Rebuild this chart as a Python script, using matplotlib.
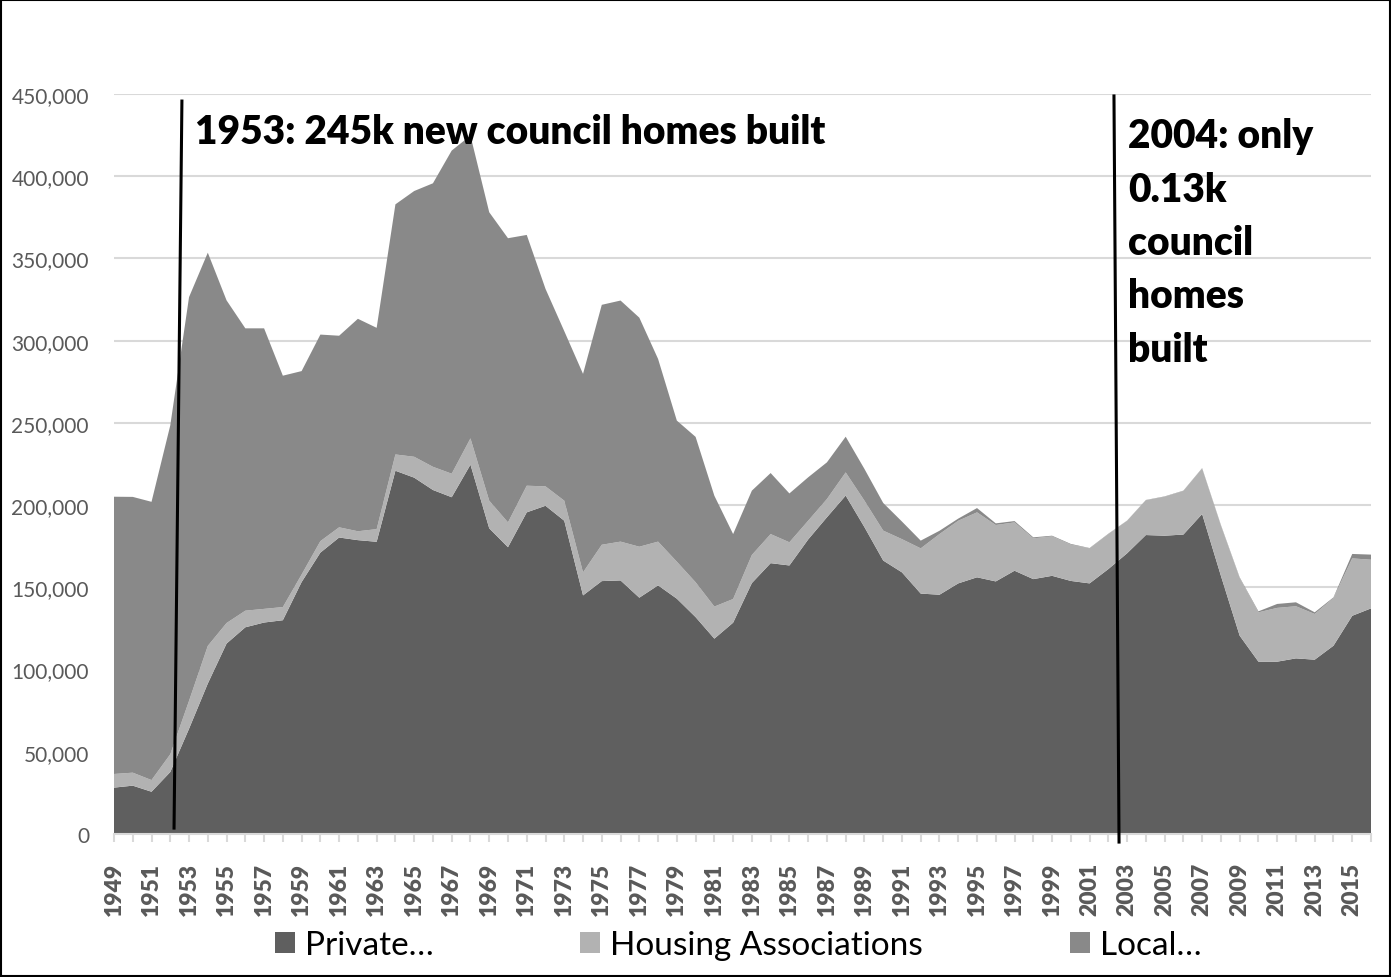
import matplotlib
matplotlib.use("Agg")
import matplotlib.pyplot as plt
from matplotlib.patches import Patch, Rectangle
from matplotlib.lines import Line2D
from matplotlib.ticker import FuncFormatter, MultipleLocator

plt.rcParams['font.family'] = ['Lato', 'DejaVu Sans']

# ---- data: completions per year (thousands) ----
years = list(range(1949, 2017))

private = [28.2, 29.4, 25.7, 37.7, 64.0, 91.5, 115.8, 125.7, 128.6, 130.0,
           153.2, 171.1, 180.3, 178.7, 177.7, 220.9, 216.7, 209.2, 204.8, 224.6,
           185.9, 174.4, 195.6, 199.6, 190.5, 145.1, 153.8, 154.2, 143.7, 151.2,
           143.1, 131.9, 118.8, 128.5, 152.6, 164.7, 163.3, 179.1, 192.6, 205.8,
           186.6, 166.3, 159.1, 146.2, 145.5, 152.4, 156.1, 153.6, 160.1, 155.0,
           157.0, 153.9, 152.4, 161.1, 170.7, 181.8, 181.4, 182.1, 194.6, 157.0,
           120.6, 104.8, 104.8, 106.8, 106.0, 114.5, 132.7, 137.2]

housing_assoc = [8.3, 7.9, 7.1, 10.8, 17.0, 22.9, 12.5, 10.1, 8.3, 8.0,
                 4.6, 7.0, 6.2, 5.4, 7.7, 9.9, 12.7, 14.1, 14.3, 16.0,
                 16.8, 15.1, 16.2, 11.8, 12.2, 14.0, 22.1, 23.6, 31.0, 26.6,
                 22.5, 21.2, 19.5, 14.4, 17.1, 17.7, 14.1, 11.4, 11.1, 14.1,
                 16.1, 18.2, 20.2, 27.5, 36.9, 38.1, 39.5, 34.3, 29.4, 24.8,
                 24.0, 22.1, 21.3, 21.3, 19.8, 21.2, 23.7, 26.5, 27.7, 30.5,
                 35.1, 30.0, 32.7, 31.7, 27.8, 29.0, 34.9, 29.6]

local_auth = [168.6, 167.7, 169.2, 200.0, 245.5, 239.1, 196.2, 171.7, 170.6, 140.7,
              123.7, 125.6, 116.5, 129.2, 122.4, 152.1, 161.6, 172.4, 196.5, 184.1,
              175.4, 172.8, 152.5, 120.1, 103.1, 120.7, 145.9, 146.6, 139.3, 111.1,
              85.8, 88.4, 67.4, 39.5, 39.1, 37.1, 29.7, 26.4, 22.3, 21.7,
              19.3, 16.8, 10.7, 4.7, 2.0, 1.3, 2.6, 1.0, 0.8, 0.6,
              0.4, 0.4, 0.2, 0.2, 0.1, 0.13, 0.2, 0.2, 0.2, 0.4,
              0.4, 0.6, 2.4, 2.4, 1.0, 0.4, 2.7, 3.1]

series_names = ["Private…", "Housing Associations", "Local…"]
colors = ["#5f5f5f", "#b2b2b2", "#898989"]

# annotation lines (year, value) endpoints
line_1953 = [(1952.62, 445700), (1952.2, 3600)]
line_2004 = [(2002.3, 448800), (2002.57, -4900)]

W, H = 1391, 978
fig = plt.figure(figsize=(W / 100, H / 100), dpi=100)
ax = fig.add_axes([114 / W, 1 - 835 / H, (1371 - 114) / W, (835 - 95) / H])

vals = [[v * 1000 for v in s] for s in (private, housing_assoc, local_auth)]
ax.stackplot(years, *vals, colors=colors, linewidth=0, zorder=2)

ax.set_xlim(years[0], years[-1])
ax.set_ylim(0, 450000)
ax.yaxis.set_major_locator(MultipleLocator(50000))
ax.yaxis.set_major_formatter(FuncFormatter(lambda v, p: f"{int(v):,}"))
ax.grid(axis='y', color='#d9d9d9', linewidth=1.5, zorder=0)
ax.set_axisbelow(True)

for s in ('top', 'right', 'left'):
    ax.spines[s].set_visible(False)
ax.spines['bottom'].set_color('#d9d9d9')
ax.spines['bottom'].set_linewidth(1.5)
ax.spines['bottom'].set_zorder(3)

ax.tick_params(axis='y', length=0, pad=18, labelsize=15, labelcolor='#595959')
ax.set_xticks(years)
ax.set_xticklabels([str(y) if (y - 1949) % 2 == 0 else '' for y in years], rotation=90)
ax.tick_params(axis='x', length=6, width=1.5, color='#d9d9d9', pad=14,
               labelsize=16.5, labelcolor='#595959')
for lbl in ax.get_xticklabels():
    lbl.set_fontweight('heavy')

# annotations
for ln in (line_1953, line_2004):
    ax.add_line(Line2D([ln[0][0], ln[1][0]], [ln[0][1], ln[1][1]],
                       color='black', linewidth=2.2, clip_on=False, zorder=5))

fig.text(195 / W, 1 - 132 / H, "1953: 245k new council homes built",
         fontsize=28, fontweight='heavy', va='center', ha='left')
fig.text(1128 / W, 1 - 118 / H, "2004: only\n0.13k\ncouncil\nhomes\nbuilt",
         fontsize=28, fontweight='heavy', va='top', ha='left', linespacing=1.55)

handles = [Patch(facecolor=c, edgecolor='none') for c in colors]
fig.legend(handles, series_names, loc='center', bbox_to_anchor=(738 / W, 1 - 946 / H),
           ncol=3, frameon=False, fontsize=24, handlelength=0.6, handleheight=0.6,
           handletextpad=0.3, columnspacing=4.4)

# outer frame
fig.patches.append(Rectangle((0.001, 0.001), 0.998, 0.998, transform=fig.transFigure,
                             fill=False, edgecolor='black', linewidth=1.5))

fig.savefig("out.png", dpi=100)
